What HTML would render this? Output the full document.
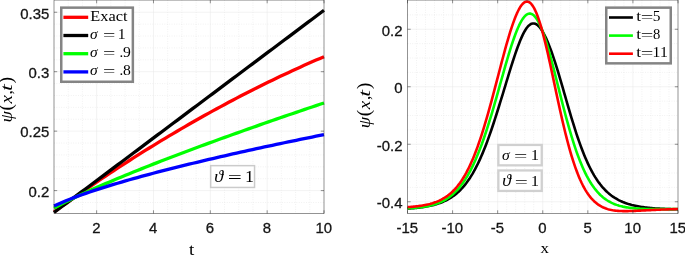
<!DOCTYPE html>
<html><head><meta charset="utf-8"><title>plot</title>
<style>html,body{margin:0;padding:0;background:#fff}svg{display:block}</style></head>
<body>
<svg width="685" height="256" viewBox="0 0 685 256">
<rect width="685" height="256" fill="#fff"/>
<defs><clipPath id="c1"><rect x="52" y="0" width="273" height="215"/></clipPath><clipPath id="c2"><rect x="406.5" y="0" width="272.5" height="214"/></clipPath></defs>
<path d="M68.21 0.1V213.5M82.42 0.1V213.5M110.84 0.1V213.5M125.05 0.1V213.5M139.26 0.1V213.5M167.68 0.1V213.5M181.89 0.1V213.5M196.11 0.1V213.5M224.53 0.1V213.5M238.74 0.1V213.5M252.95 0.1V213.5M281.37 0.1V213.5M295.58 0.1V213.5M309.79 0.1V213.5M54.0 202.49H324.0M54.0 178.71H324.0M54.0 166.82H324.0M54.0 154.93H324.0M54.0 143.04H324.0M54.0 119.26H324.0M54.0 107.37H324.0M54.0 95.48H324.0M54.0 83.59H324.0M54.0 59.81H324.0M54.0 47.92H324.0M54.0 36.03H324.0M54.0 24.14H324.0" stroke="#d8d8d8" stroke-width="0.4" stroke-dasharray="0.9 1.5" fill="none"/>
<path d="M96.63 0.1V213.5M153.47 0.1V213.5M210.32 0.1V213.5M267.16 0.1V213.5M54.0 190.6H324.0M54.0 131.15H324.0M54.0 71.7H324.0M54.0 12.25H324.0" stroke="#e6e6e6" stroke-width="0.5" fill="none"/>
<g clip-path="url(#c1)" fill="none" stroke-linejoin="round">
<path d="M54 212 L57.97 209.13 L61.94 206.28 L65.91 203.45 L69.88 200.64 L73.85 197.84 L77.82 195.06 L81.79 192.3 L85.76 189.56 L89.74 186.83 L93.71 184.12 L97.68 181.43 L101.65 178.75 L105.62 176.09 L109.59 173.45 L113.56 170.83 L117.53 168.22 L121.5 165.63 L125.47 163.06 L129.44 160.51 L133.41 157.97 L137.38 155.46 L141.35 152.95 L145.32 150.47 L149.29 148 L153.26 145.55 L157.24 143.12 L161.21 140.71 L165.18 138.31 L169.15 135.93 L173.12 133.57 L177.09 131.22 L181.06 128.9 L185.03 126.59 L189 124.29 L192.97 122.02 L196.94 119.76 L200.91 117.52 L204.88 115.3 L208.85 113.09 L212.82 110.9 L216.79 108.73 L220.76 106.58 L224.74 104.44 L228.71 102.32 L232.68 100.22 L236.65 98.14 L240.62 96.07 L244.59 94.02 L248.56 91.99 L252.53 89.97 L256.5 87.98 L260.47 86 L264.44 84.03 L268.41 82.09 L272.38 80.16 L276.35 78.25 L280.32 76.36 L284.29 74.48 L288.26 72.63 L292.24 70.78 L296.21 68.96 L300.18 67.16 L304.15 65.37 L308.12 63.6 L312.09 61.84 L316.06 60.11 L320.03 58.39 L324 56.68" stroke="#ff0000" stroke-width="3.3"/>
<path d="M54 212.5 L57.97 209.53 L61.94 206.55 L65.91 203.58 L69.88 200.61 L73.85 197.63 L77.82 194.66 L81.79 191.69 L85.76 188.71 L89.74 185.74 L93.71 182.76 L97.68 179.79 L101.65 176.82 L105.62 173.84 L109.59 170.87 L113.56 167.9 L117.53 164.92 L121.5 161.95 L125.47 158.98 L129.44 156 L133.41 153.03 L137.38 150.06 L141.35 147.08 L145.32 144.11 L149.29 141.14 L153.26 138.16 L157.24 135.19 L161.21 132.21 L165.18 129.24 L169.15 126.27 L173.12 123.29 L177.09 120.32 L181.06 117.35 L185.03 114.37 L189 111.4 L192.97 108.43 L196.94 105.45 L200.91 102.48 L204.88 99.51 L208.85 96.53 L212.82 93.56 L216.79 90.59 L220.76 87.61 L224.74 84.64 L228.71 81.66 L232.68 78.69 L236.65 75.72 L240.62 72.74 L244.59 69.77 L248.56 66.8 L252.53 63.82 L256.5 60.85 L260.47 57.88 L264.44 54.9 L268.41 51.93 L272.38 48.96 L276.35 45.98 L280.32 43.01 L284.29 40.04 L288.26 37.06 L292.24 34.09 L296.21 31.11 L300.18 28.14 L304.15 25.17 L308.12 22.19 L312.09 19.22 L316.06 16.25 L320.03 13.27 L324 10.3" stroke="#000000" stroke-width="3.3"/>
<path d="M54 208.16 L57.97 206 L61.94 203.91 L65.91 201.88 L69.88 199.91 L73.85 197.98 L77.82 196.09 L81.79 194.23 L85.76 192.41 L89.74 190.6 L93.71 188.83 L97.68 187.07 L101.65 185.34 L105.62 183.62 L109.59 181.92 L113.56 180.24 L117.53 178.58 L121.5 176.92 L125.47 175.29 L129.44 173.66 L133.41 172.05 L137.38 170.45 L141.35 168.86 L145.32 167.28 L149.29 165.71 L153.26 164.15 L157.24 162.59 L161.21 161.05 L165.18 159.52 L169.15 157.99 L173.12 156.48 L177.09 154.97 L181.06 153.46 L185.03 151.97 L189 150.48 L192.97 149 L196.94 147.52 L200.91 146.05 L204.88 144.59 L208.85 143.14 L212.82 141.68 L216.79 140.24 L220.76 138.8 L224.74 137.37 L228.71 135.94 L232.68 134.51 L236.65 133.09 L240.62 131.68 L244.59 130.27 L248.56 128.87 L252.53 127.47 L256.5 126.07 L260.47 124.68 L264.44 123.29 L268.41 121.91 L272.38 120.53 L276.35 119.15 L280.32 117.78 L284.29 116.42 L288.26 115.05 L292.24 113.69 L296.21 112.34 L300.18 110.99 L304.15 109.64 L308.12 108.29 L312.09 106.95 L316.06 105.61 L320.03 104.27 L324 102.94" stroke="#00ff00" stroke-width="3.3"/>
<path d="M54 206.06 L57.97 204.18 L61.94 202.42 L65.91 200.75 L69.88 199.16 L73.85 197.63 L77.82 196.15 L81.79 194.72 L85.76 193.33 L89.74 191.97 L93.71 190.64 L97.68 189.35 L101.65 188.08 L105.62 186.83 L109.59 185.61 L113.56 184.4 L117.53 183.22 L121.5 182.05 L125.47 180.9 L129.44 179.77 L133.41 178.65 L137.38 177.55 L141.35 176.46 L145.32 175.38 L149.29 174.31 L153.26 173.26 L157.24 172.21 L161.21 171.18 L165.18 170.16 L169.15 169.14 L173.12 168.14 L177.09 167.14 L181.06 166.15 L185.03 165.17 L189 164.2 L192.97 163.24 L196.94 162.28 L200.91 161.34 L204.88 160.39 L208.85 159.46 L212.82 158.53 L216.79 157.61 L220.76 156.69 L224.74 155.78 L228.71 154.88 L232.68 153.98 L236.65 153.09 L240.62 152.2 L244.59 151.32 L248.56 150.44 L252.53 149.57 L256.5 148.7 L260.47 147.84 L264.44 146.98 L268.41 146.13 L272.38 145.28 L276.35 144.43 L280.32 143.59 L284.29 142.75 L288.26 141.92 L292.24 141.09 L296.21 140.27 L300.18 139.45 L304.15 138.63 L308.12 137.82 L312.09 137.01 L316.06 136.2 L320.03 135.4 L324 134.6" stroke="#0000ff" stroke-width="3.3"/>
</g>
<path d="M54.0 0.1H324.0V213.5H54.0ZM96.63 213.5v-3.2M96.63 0.1v3.2M153.47 213.5v-3.2M153.47 0.1v3.2M210.32 213.5v-3.2M210.32 0.1v3.2M267.16 213.5v-3.2M267.16 0.1v3.2M324 213.5v-3.2M324 0.1v3.2M54.0 190.6h3.2M324.0 190.6h-3.2M54.0 131.15h3.2M324.0 131.15h-3.2M54.0 71.7h3.2M324.0 71.7h-3.2M54.0 12.25h3.2M324.0 12.25h-3.2" stroke="#262626" stroke-width="0.5" fill="none"/>
<path d="M416.52 0.1V213.5M425.53 0.1V213.5M434.55 0.1V213.5M443.57 0.1V213.5M461.6 0.1V213.5M470.62 0.1V213.5M479.63 0.1V213.5M488.65 0.1V213.5M506.68 0.1V213.5M515.7 0.1V213.5M524.72 0.1V213.5M533.73 0.1V213.5M551.77 0.1V213.5M560.78 0.1V213.5M569.8 0.1V213.5M578.82 0.1V213.5M596.85 0.1V213.5M605.87 0.1V213.5M614.88 0.1V213.5M623.9 0.1V213.5M641.93 0.1V213.5M650.95 0.1V213.5M659.97 0.1V213.5M668.98 0.1V213.5M407.5 187.38H678.0M407.5 173H678.0M407.5 158.63H678.0M407.5 129.88H678.0M407.5 115.5H678.0M407.5 101.13H678.0M407.5 72.38H678.0M407.5 58H678.0M407.5 43.63H678.0M407.5 14.88H678.0" stroke="#d8d8d8" stroke-width="0.4" stroke-dasharray="0.9 1.5" fill="none"/>
<path d="M452.58 0.1V213.5M497.67 0.1V213.5M542.75 0.1V213.5M587.83 0.1V213.5M632.92 0.1V213.5M407.5 29.25H678.0M407.5 86.75H678.0M407.5 144.25H678.0M407.5 201.75H678.0" stroke="#e6e6e6" stroke-width="0.5" fill="none"/>
<g clip-path="url(#c2)" fill="none" stroke-linejoin="round">
<path d="M407.5 208.57 L408.75 208.49 L410 208.4 L411.26 208.31 L412.51 208.21 L413.76 208.1 L415.01 207.99 L416.27 207.87 L417.52 207.73 L418.77 207.59 L420.02 207.44 L421.28 207.28 L422.53 207.11 L423.78 206.92 L425.03 206.72 L426.28 206.51 L427.54 206.28 L428.79 206.04 L430.04 205.78 L431.29 205.5 L432.55 205.21 L433.8 204.89 L435.05 204.55 L436.3 204.19 L437.56 203.8 L438.81 203.38 L440.06 202.94 L441.31 202.47 L442.56 201.96 L443.82 201.42 L445.07 200.85 L446.32 200.24 L447.57 199.58 L448.83 198.88 L450.08 198.14 L451.33 197.35 L452.58 196.51 L453.84 195.61 L455.09 194.66 L456.34 193.65 L457.59 192.58 L458.84 191.43 L460.1 190.22 L461.35 188.94 L462.6 187.58 L463.85 186.15 L465.11 184.63 L466.36 183.02 L467.61 181.32 L468.86 179.54 L470.12 177.66 L471.37 175.68 L472.62 173.6 L473.87 171.41 L475.12 169.12 L476.38 166.73 L477.63 164.23 L478.88 161.62 L480.13 158.9 L481.39 156.07 L482.64 153.13 L483.89 150.09 L485.14 146.94 L486.4 143.69 L487.65 140.34 L488.9 136.89 L490.15 133.35 L491.41 129.73 L492.66 126.02 L493.91 122.24 L495.16 118.39 L496.41 114.48 L497.67 110.51 L498.92 106.5 L500.17 102.45 L501.42 98.37 L502.68 94.26 L503.93 90.14 L505.18 86.01 L506.43 81.89 L507.69 77.79 L508.94 73.71 L510.19 69.66 L511.44 65.67 L512.69 61.75 L513.95 57.9 L515.2 54.16 L516.45 50.53 L517.7 47.05 L518.96 43.72 L520.21 40.57 L521.46 37.63 L522.71 34.91 L523.97 32.45 L525.22 30.25 L526.47 28.33 L527.72 26.71 L528.97 25.41 L530.23 24.42 L531.48 23.77 L532.73 23.43 L533.98 23.43 L535.24 23.74 L536.49 24.36 L537.74 25.29 L538.99 26.5 L540.25 27.99 L541.5 29.75 L542.75 31.76 L544 34.01 L545.25 36.48 L546.51 39.17 L547.76 42.06 L549.01 45.14 L550.26 48.39 L551.52 51.81 L552.77 55.39 L554.02 59.1 L555.27 62.95 L556.53 66.91 L557.78 70.98 L559.03 75.13 L560.28 79.35 L561.53 83.63 L562.79 87.96 L564.04 92.3 L565.29 96.66 L566.54 101.01 L567.8 105.35 L569.05 109.65 L570.3 113.9 L571.55 118.09 L572.81 122.2 L574.06 126.24 L575.31 130.18 L576.56 134.03 L577.81 137.76 L579.07 141.39 L580.32 144.89 L581.57 148.28 L582.82 151.54 L584.08 154.68 L585.33 157.69 L586.58 160.58 L587.83 163.34 L589.09 165.97 L590.34 168.49 L591.59 170.88 L592.84 173.16 L594.09 175.32 L595.35 177.38 L596.6 179.32 L597.85 181.16 L599.1 182.9 L600.36 184.55 L601.61 186.1 L602.86 187.57 L604.11 188.95 L605.37 190.26 L606.62 191.48 L607.87 192.64 L609.12 193.72 L610.38 194.74 L611.63 195.7 L612.88 196.6 L614.13 197.45 L615.38 198.24 L616.64 198.98 L617.89 199.68 L619.14 200.33 L620.39 200.94 L621.65 201.51 L622.9 202.05 L624.15 202.55 L625.4 203.02 L626.66 203.46 L627.91 203.87 L629.16 204.26 L630.41 204.62 L631.66 204.96 L632.92 205.27 L634.17 205.56 L635.42 205.84 L636.67 206.1 L637.93 206.34 L639.18 206.56 L640.43 206.77 L641.68 206.97 L642.94 207.15 L644.19 207.32 L645.44 207.48 L646.69 207.63 L647.94 207.77 L649.2 207.9 L650.45 208.02 L651.7 208.13 L652.95 208.23 L654.21 208.33 L655.46 208.43 L656.71 208.51 L657.96 208.59 L659.22 208.67 L660.47 208.74 L661.72 208.8 L662.97 208.86 L664.22 208.92 L665.48 208.97 L666.73 209.02 L667.98 209.07 L669.23 209.11 L670.49 209.15 L671.74 209.19 L672.99 209.22 L674.24 209.25 L675.5 209.28 L676.75 209.31 L678 209.34" stroke="#000000" stroke-width="2.6"/>
<path d="M407.5 208.3 L408.75 208.23 L410 208.17 L411.26 208.09 L412.51 208.01 L413.76 207.91 L415.01 207.81 L416.27 207.7 L417.52 207.58 L418.77 207.45 L420.02 207.31 L421.28 207.15 L422.53 206.98 L423.78 206.79 L425.03 206.59 L426.28 206.37 L427.54 206.13 L428.79 205.87 L430.04 205.59 L431.29 205.28 L432.55 204.95 L433.8 204.6 L435.05 204.21 L436.3 203.79 L437.56 203.34 L438.81 202.86 L440.06 202.33 L441.31 201.77 L442.56 201.17 L443.82 200.52 L445.07 199.82 L446.32 199.07 L447.57 198.27 L448.83 197.41 L450.08 196.49 L451.33 195.51 L452.58 194.47 L453.84 193.35 L455.09 192.16 L456.34 190.9 L457.59 189.56 L458.84 188.13 L460.1 186.62 L461.35 185.02 L462.6 183.33 L463.85 181.54 L465.11 179.66 L466.36 177.67 L467.61 175.58 L468.86 173.38 L470.12 171.08 L471.37 168.66 L472.62 166.13 L473.87 163.49 L475.12 160.73 L476.38 157.85 L477.63 154.86 L478.88 151.76 L480.13 148.54 L481.39 145.2 L482.64 141.76 L483.89 138.2 L485.14 134.53 L486.4 130.77 L487.65 126.9 L488.9 122.94 L490.15 118.89 L491.41 114.76 L492.66 110.55 L493.91 106.27 L495.16 101.94 L496.41 97.56 L497.67 93.14 L498.92 88.68 L500.17 84.22 L501.42 79.75 L502.68 75.29 L503.93 70.86 L505.18 66.46 L506.43 62.12 L507.69 57.86 L508.94 53.68 L510.19 49.61 L511.44 45.67 L512.69 41.87 L513.95 38.23 L515.2 34.78 L516.45 31.52 L517.7 28.49 L518.96 25.69 L520.21 23.14 L521.46 20.86 L522.71 18.87 L523.97 17.17 L525.22 15.79 L526.47 14.73 L527.72 14.01 L528.97 13.62 L530.23 13.58 L531.48 13.89 L532.73 14.55 L533.98 15.56 L535.24 16.91 L536.49 18.61 L537.74 20.63 L538.99 22.98 L540.25 25.63 L541.5 28.58 L542.75 31.81 L544 35.3 L545.25 39.03 L546.51 42.99 L547.76 47.14 L549.01 51.48 L550.26 55.97 L551.52 60.59 L552.77 65.33 L554.02 70.16 L555.27 75.06 L556.53 80 L557.78 84.97 L559.03 89.94 L560.28 94.9 L561.53 99.83 L562.79 104.71 L564.04 109.53 L565.29 114.27 L566.54 118.92 L567.8 123.47 L569.05 127.9 L570.3 132.22 L571.55 136.42 L572.81 140.47 L574.06 144.39 L575.31 148.17 L576.56 151.8 L577.81 155.29 L579.07 158.63 L580.32 161.82 L581.57 164.86 L582.82 167.76 L584.08 170.52 L585.33 173.13 L586.58 175.61 L587.83 177.95 L589.09 180.17 L590.34 182.25 L591.59 184.22 L592.84 186.07 L594.09 187.8 L595.35 189.43 L596.6 190.95 L597.85 192.38 L599.1 193.71 L600.36 194.95 L601.61 196.1 L602.86 197.18 L604.11 198.18 L605.37 199.11 L606.62 199.97 L607.87 200.77 L609.12 201.5 L610.38 202.19 L611.63 202.82 L612.88 203.4 L614.13 203.93 L615.38 204.42 L616.64 204.88 L617.89 205.29 L619.14 205.67 L620.39 206.02 L621.65 206.34 L622.9 206.63 L624.15 206.89 L625.4 207.14 L626.66 207.35 L627.91 207.55 L629.16 207.74 L630.41 207.9 L631.66 208.05 L632.92 208.18 L634.17 208.3 L635.42 208.41 L636.67 208.5 L637.93 208.59 L639.18 208.67 L640.43 208.74 L641.68 208.8 L642.94 208.85 L644.19 208.9 L645.44 208.94 L646.69 208.97 L647.94 209 L649.2 209.03 L650.45 209.05 L651.7 209.07 L652.95 209.08 L654.21 209.1 L655.46 209.11 L656.71 209.11 L657.96 209.12 L659.22 209.12 L660.47 209.12 L661.72 209.12 L662.97 209.12 L664.22 209.12 L665.48 209.12 L666.73 209.11 L667.98 209.11 L669.23 209.1 L670.49 209.09 L671.74 209.09 L672.99 209.08 L674.24 209.07 L675.5 209.07 L676.75 209.06 L678 209.05" stroke="#00ff00" stroke-width="2.6"/>
<path d="M407.5 207.11 L408.75 207.02 L410 206.93 L411.26 206.83 L412.51 206.72 L413.76 206.61 L415.01 206.48 L416.27 206.34 L417.52 206.2 L418.77 206.04 L420.02 205.87 L421.28 205.68 L422.53 205.48 L423.78 205.26 L425.03 205.03 L426.28 204.78 L427.54 204.5 L428.79 204.21 L430.04 203.89 L431.29 203.54 L432.55 203.17 L433.8 202.77 L435.05 202.34 L436.3 201.88 L437.56 201.38 L438.81 200.84 L440.06 200.26 L441.31 199.63 L442.56 198.96 L443.82 198.24 L445.07 197.47 L446.32 196.64 L447.57 195.75 L448.83 194.8 L450.08 193.78 L451.33 192.69 L452.58 191.52 L453.84 190.27 L455.09 188.94 L456.34 187.53 L457.59 186.02 L458.84 184.42 L460.1 182.72 L461.35 180.91 L462.6 179 L463.85 176.98 L465.11 174.84 L466.36 172.59 L467.61 170.21 L468.86 167.71 L470.12 165.08 L471.37 162.32 L472.62 159.44 L473.87 156.42 L475.12 153.27 L476.38 149.99 L477.63 146.58 L478.88 143.04 L480.13 139.37 L481.39 135.57 L482.64 131.66 L483.89 127.62 L485.14 123.48 L486.4 119.22 L487.65 114.87 L488.9 110.43 L490.15 105.91 L491.41 101.3 L492.66 96.64 L493.91 91.92 L495.16 87.16 L496.41 82.37 L497.67 77.57 L498.92 72.76 L500.17 67.96 L501.42 63.19 L502.68 58.47 L503.93 53.8 L505.18 49.21 L506.43 44.72 L507.69 40.34 L508.94 36.09 L510.19 31.99 L511.44 28.07 L512.69 24.34 L513.95 20.82 L515.2 17.53 L516.45 14.49 L517.7 11.73 L518.96 9.26 L520.21 7.1 L521.46 5.28 L522.71 3.8 L523.97 2.68 L525.22 1.94 L526.47 1.58 L527.72 1.62 L528.97 2.07 L530.23 2.92 L531.48 4.18 L532.73 5.86 L533.98 7.93 L535.24 10.4 L536.49 13.26 L537.74 16.49 L538.99 20.08 L540.25 24 L541.5 28.24 L542.75 32.78 L544 37.57 L545.25 42.61 L546.51 47.86 L547.76 53.29 L549.01 58.88 L550.26 64.58 L551.52 70.38 L552.77 76.24 L554.02 82.13 L555.27 88.04 L556.53 93.92 L557.78 99.76 L559.03 105.53 L560.28 111.21 L561.53 116.79 L562.79 122.24 L564.04 127.54 L565.29 132.7 L566.54 137.68 L567.8 142.5 L569.05 147.12 L570.3 151.56 L571.55 155.81 L572.81 159.85 L574.06 163.7 L575.31 167.36 L576.56 170.81 L577.81 174.08 L579.07 177.15 L580.32 180.03 L581.57 182.74 L582.82 185.27 L584.08 187.63 L585.33 189.82 L586.58 191.86 L587.83 193.75 L589.09 195.5 L590.34 197.11 L591.59 198.59 L592.84 199.95 L594.09 201.19 L595.35 202.33 L596.6 203.36 L597.85 204.31 L599.1 205.16 L600.36 205.93 L601.61 206.62 L602.86 207.25 L604.11 207.8 L605.37 208.3 L606.62 208.74 L607.87 209.13 L609.12 209.47 L610.38 209.77 L611.63 210.03 L612.88 210.25 L614.13 210.44 L615.38 210.6 L616.64 210.73 L617.89 210.84 L619.14 210.93 L620.39 210.99 L621.65 211.04 L622.9 211.08 L624.15 211.09 L625.4 211.1 L626.66 211.09 L627.91 211.08 L629.16 211.05 L630.41 211.02 L631.66 210.99 L632.92 210.94 L634.17 210.89 L635.42 210.84 L636.67 210.79 L637.93 210.73 L639.18 210.67 L640.43 210.61 L641.68 210.54 L642.94 210.48 L644.19 210.41 L645.44 210.35 L646.69 210.28 L647.94 210.22 L649.2 210.16 L650.45 210.09 L651.7 210.03 L652.95 209.97 L654.21 209.91 L655.46 209.85 L656.71 209.79 L657.96 209.74 L659.22 209.68 L660.47 209.63 L661.72 209.57 L662.97 209.52 L664.22 209.48 L665.48 209.43 L666.73 209.38 L667.98 209.34 L669.23 209.29 L670.49 209.25 L671.74 209.21 L672.99 209.17 L674.24 209.13 L675.5 209.1 L676.75 209.06 L678 209.03" stroke="#ff0000" stroke-width="2.6"/>
</g>
<path d="M407.5 0.1H678.0V213.5H407.5ZM407.5 213.5v-3.2M407.5 0.1v3.2M452.58 213.5v-3.2M452.58 0.1v3.2M497.67 213.5v-3.2M497.67 0.1v3.2M542.75 213.5v-3.2M542.75 0.1v3.2M587.83 213.5v-3.2M587.83 0.1v3.2M632.92 213.5v-3.2M632.92 0.1v3.2M678 213.5v-3.2M678 0.1v3.2M407.5 29.25h3.2M678.0 29.25h-3.2M407.5 86.75h3.2M678.0 86.75h-3.2M407.5 144.25h3.2M678.0 144.25h-3.2M407.5 201.75h3.2M678.0 201.75h-3.2" stroke="#262626" stroke-width="0.5" fill="none"/>
<g font-family="'Liberation Sans', Arial, Helvetica, sans-serif" font-size="15.4" fill="#141414" stroke="#141414" stroke-width="0.3">
<text transform="translate(96.33 233.25) scale(0.97 1)" text-anchor="middle">2</text>
<text transform="translate(153.17 233.25) scale(0.97 1)" text-anchor="middle">4</text>
<text transform="translate(210.02 233.25) scale(0.97 1)" text-anchor="middle">6</text>
<text transform="translate(266.86 233.25) scale(0.97 1)" text-anchor="middle">8</text>
<text transform="translate(323.7 233.25) scale(0.97 1)" text-anchor="middle">10</text>
<text transform="translate(49.3 196.9) scale(0.97 1)" text-anchor="end">0.2</text>
<text transform="translate(49.3 137.45) scale(0.97 1)" text-anchor="end">0.25</text>
<text transform="translate(49.3 78) scale(0.97 1)" text-anchor="end">0.3</text>
<text transform="translate(49.3 18.55) scale(0.97 1)" text-anchor="end">0.35</text>
<text transform="translate(407.2 233.25) scale(0.97 1)" text-anchor="middle">-15</text>
<text transform="translate(452.28 233.25) scale(0.97 1)" text-anchor="middle">-10</text>
<text transform="translate(497.37 233.25) scale(0.97 1)" text-anchor="middle">-5</text>
<text transform="translate(542.45 233.25) scale(0.97 1)" text-anchor="middle">0</text>
<text transform="translate(587.53 233.25) scale(0.97 1)" text-anchor="middle">5</text>
<text transform="translate(632.62 233.25) scale(0.97 1)" text-anchor="middle">10</text>
<text transform="translate(677.7 233.25) scale(0.97 1)" text-anchor="middle">15</text>
<text transform="translate(402.5 35.55) scale(0.97 1)" text-anchor="end">0.2</text>
<text transform="translate(402.5 93.05) scale(0.97 1)" text-anchor="end">0</text>
<text transform="translate(402.5 150.55) scale(0.97 1)" text-anchor="end">-0.2</text>
<text transform="translate(402.5 208.05) scale(0.97 1)" text-anchor="end">-0.4</text>
</g>
<g font-family="'Liberation Serif', 'Times New Roman', serif" fill="#000">
<rect x="61.25" y="7.65" width="71.6" height="74.1" fill="#fff" stroke="#848484" stroke-width="2.5"/>
<path d="M63.4 17.3H88.2" stroke="#ff0000" stroke-width="3.3"/>
<path d="M63.4 35.5H88.2" stroke="#000000" stroke-width="3.3"/>
<path d="M63.4 53.7H88.2" stroke="#00ff00" stroke-width="3.3"/>
<path d="M63.4 71.89999999999999H88.2" stroke="#0000ff" stroke-width="3.3"/>
<text><tspan x="90.23" y="20.9" font-size="15.2" textLength="37.27" lengthAdjust="spacingAndGlyphs">Exact</tspan></text>
<text><tspan x="90.14" y="38.5" font-size="14.8" font-style="italic" textLength="7.67" lengthAdjust="spacingAndGlyphs">σ</tspan> <tspan x="102.91" y="39.61" font-size="14.8" textLength="12.36" lengthAdjust="spacingAndGlyphs">=</tspan> <tspan x="117.71" y="38.5" font-size="14.8" textLength="7.84" lengthAdjust="spacingAndGlyphs">1</tspan></text>
<text><tspan x="90.14" y="56.9" font-size="14.8" font-style="italic" textLength="7.67" lengthAdjust="spacingAndGlyphs">σ</tspan> <tspan x="102.91" y="58.01" font-size="14.8" textLength="12.36" lengthAdjust="spacingAndGlyphs">=</tspan> <tspan x="119.52" y="56.9" font-size="14.8">.</tspan><tspan x="123.1" y="56.9" font-size="14.8" textLength="7.84" lengthAdjust="spacingAndGlyphs">9</tspan></text>
<text><tspan x="90.14" y="75.3" font-size="14.8" font-style="italic" textLength="7.67" lengthAdjust="spacingAndGlyphs">σ</tspan> <tspan x="102.91" y="76.41" font-size="14.8" textLength="12.36" lengthAdjust="spacingAndGlyphs">=</tspan> <tspan x="119.52" y="75.3" font-size="14.8">.</tspan><tspan x="123.13" y="75.3" font-size="14.8" textLength="7.84" lengthAdjust="spacingAndGlyphs">8</tspan></text>
<rect x="606.25" y="7.65" width="64.5" height="55.699999999999996" fill="#fff" stroke="#848484" stroke-width="2.5"/>
<path d="M609 17.5H632.9" stroke="#000000" stroke-width="2.6"/>
<path d="M609 35.6H632.9" stroke="#00ff00" stroke-width="2.6"/>
<path d="M609 53.7H632.9" stroke="#ff0000" stroke-width="2.6"/>
<text><tspan x="636.23" y="21" font-size="15.4" textLength="4.87" lengthAdjust="spacingAndGlyphs">t</tspan><tspan x="640.69" y="22.11" font-size="14.8" textLength="12.6" lengthAdjust="spacingAndGlyphs">=</tspan><tspan x="652.71" y="21" font-size="14.8" textLength="7.7" lengthAdjust="spacingAndGlyphs">5</tspan></text>
<text><tspan x="636.23" y="39.05" font-size="15.4" textLength="4.87" lengthAdjust="spacingAndGlyphs">t</tspan><tspan x="640.69" y="40.16" font-size="14.8" textLength="12.6" lengthAdjust="spacingAndGlyphs">=</tspan><tspan x="653.04" y="39.05" font-size="14.8" textLength="7.31" lengthAdjust="spacingAndGlyphs">8</tspan></text>
<text><tspan x="636.23" y="57.1" font-size="15.4" textLength="4.87" lengthAdjust="spacingAndGlyphs">t</tspan><tspan x="640.69" y="58.21" font-size="14.8" textLength="12.6" lengthAdjust="spacingAndGlyphs">=</tspan><tspan x="652.56" y="57.1" font-size="14.8" textLength="7.84" lengthAdjust="spacingAndGlyphs">1</tspan><tspan x="660.11" y="57.1" font-size="14.8" textLength="7.84" lengthAdjust="spacingAndGlyphs">1</tspan></text>
<rect x="210.65" y="165.65" width="43.900000000000006" height="21.799999999999983" fill="#fff" stroke="#cbcbcb" stroke-width="1.5"/>
<text><tspan x="214.18" y="182" font-size="17.4" font-style="italic" textLength="9.01" lengthAdjust="spacingAndGlyphs">ϑ</tspan> <tspan x="227.76" y="183.31" font-size="17.4" textLength="14.06" lengthAdjust="spacingAndGlyphs">=</tspan> <tspan x="245.03" y="182" font-size="17.2" textLength="8.95" lengthAdjust="spacingAndGlyphs">1</tspan></text>
<rect x="498.34999999999997" y="144.95000000000002" width="43.39999999999999" height="20.399999999999988" fill="#fff" stroke="#d0d0d0" stroke-width="2.3"/>
<text><tspan x="502.03" y="159.8" font-size="15.6" font-style="italic" textLength="7.77" lengthAdjust="spacingAndGlyphs">σ</tspan> <tspan x="514.12" y="160.97" font-size="15.6" textLength="13.33" lengthAdjust="spacingAndGlyphs">=</tspan> <tspan x="530.74" y="159.8" font-size="15.6" textLength="8.27" lengthAdjust="spacingAndGlyphs">1</tspan></text>
<rect x="498.34999999999997" y="170.45000000000002" width="43.39999999999999" height="20.499999999999982" fill="#fff" stroke="#d0d0d0" stroke-width="2.3"/>
<text><tspan x="502.2" y="186" font-size="16.4" font-style="italic" textLength="8.81" lengthAdjust="spacingAndGlyphs">ϑ</tspan> <tspan x="514.74" y="187.17" font-size="15.6" textLength="13.09" lengthAdjust="spacingAndGlyphs">=</tspan> <tspan x="530.84" y="186" font-size="15.6" textLength="8.27" lengthAdjust="spacingAndGlyphs">1</tspan></text>
<text><tspan x="189.01" y="255.3" font-size="17" textLength="5.3" lengthAdjust="spacingAndGlyphs">t</tspan></text>
<text><tspan x="540.45" y="253" font-size="15.6" textLength="8.46" lengthAdjust="spacingAndGlyphs">x</tspan></text>
<text transform="translate(12.4 121.5) rotate(-90)"><tspan x="-1.1" y="0" font-size="17.4" font-style="italic" textLength="11.44" lengthAdjust="spacingAndGlyphs">ψ</tspan><tspan x="11.04" y="0" font-size="18.2" textLength="6.48" lengthAdjust="spacingAndGlyphs">(</tspan><tspan x="17.93" y="0" font-size="16.6" font-style="italic" textLength="8.41" lengthAdjust="spacingAndGlyphs">x</tspan><tspan x="27.14" y="0" font-size="17" textLength="4.36" lengthAdjust="spacingAndGlyphs">,</tspan> <tspan x="30.54" y="0" font-size="17" font-style="italic" textLength="6.67" lengthAdjust="spacingAndGlyphs">t</tspan><tspan x="37.95" y="0" font-size="18.2" textLength="6.74" lengthAdjust="spacingAndGlyphs">)</tspan></text>
<text transform="translate(370 127.2) rotate(-90)"><tspan x="-1.1" y="0" font-size="17.4" font-style="italic" textLength="11.44" lengthAdjust="spacingAndGlyphs">ψ</tspan><tspan x="11.04" y="0" font-size="18.2" textLength="6.48" lengthAdjust="spacingAndGlyphs">(</tspan><tspan x="17.93" y="0" font-size="16.6" font-style="italic" textLength="8.41" lengthAdjust="spacingAndGlyphs">x</tspan><tspan x="27.14" y="0" font-size="17" textLength="4.36" lengthAdjust="spacingAndGlyphs">,</tspan> <tspan x="30.54" y="0" font-size="17" font-style="italic" textLength="6.67" lengthAdjust="spacingAndGlyphs">t</tspan><tspan x="37.95" y="0" font-size="18.2" textLength="6.74" lengthAdjust="spacingAndGlyphs">)</tspan></text>
</g>
</svg>
</body></html>
